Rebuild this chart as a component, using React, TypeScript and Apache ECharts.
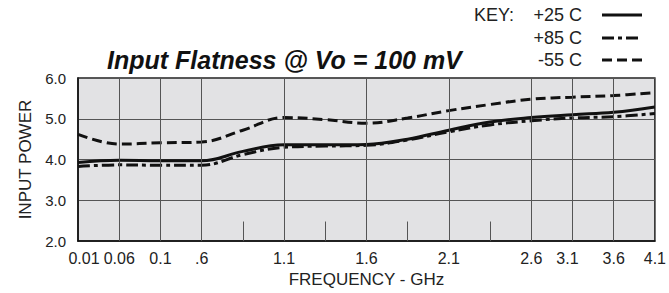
import React, { useEffect, useRef } from "react";
import * as echarts from "echarts";

// x positions are axis slots (the axis is non-uniform); labels for each slot
const xSlotLabels = ["0.01", "0.06", "0.1", ".6", "", "1.1", "", "1.6", "", "2.1", "", "2.6", "3.1", "3.6", "4.1"];
const xSlots = [0, 1, 2, 3, 4, 5, 6, 7, 8, 9, 10, 11, 12, 13, 14];
const gridSlots = [1, 2, 3, 5, 7, 9, 11, 12, 13];
const minorTickSlots = [4, 6, 8, 10];

const plus25 = [3.93, 3.98, 3.97, 3.97, 4.2, 4.36, 4.36, 4.37, 4.5, 4.72, 4.92, 5.03, 5.1, 5.16, 5.29];
const plus85 = [3.83, 3.87, 3.86, 3.86, 4.12, 4.3, 4.33, 4.35, 4.48, 4.68, 4.85, 4.95, 5.02, 5.05, 5.13];
const minus55 = [4.62, 4.38, 4.41, 4.43, 4.72, 5.03, 4.98, 4.89, 5.02, 5.2, 5.35, 5.48, 5.53, 5.57, 5.64];

const FONT = "'Liberation Sans', Arial, sans-serif";

export default function App() {
  const ref = useRef<HTMLDivElement>(null);
  useEffect(() => {
    const chart = echarts.init(ref.current!, undefined, { renderer: "svg" });
    const mk = (vals: number[]) => xSlots.map((x, i) => [x, vals[i]]);
    const keyX = 602;
    const keyFont = `18px ${FONT}`;
    const option: any = {
      animation: false,
      grid: {
        left: 78, right: 9, top: 78, bottom: 49,
        show: true, backgroundColor: "#e2e2e4", borderColor: "#222", borderWidth: 1.5,
      },
      title: {
        text: "Input Flatness @ Vo = 100 mV",
        left: 102, top: 42,
        textStyle: { fontFamily: FONT, fontSize: 25, fontWeight: "bold", fontStyle: "italic", color: "#111" },
      },
      graphic: [
        { type: "text", left: 474, top: 6, style: { text: "KEY:", font: keyFont, fill: "#222" } },
        { type: "text", right: 87, top: 6, style: { text: "+25 C", font: keyFont, fill: "#222" } },
        { type: "text", right: 87, top: 29, style: { text: "+85 C", font: keyFont, fill: "#222" } },
        { type: "text", right: 87, top: 51, style: { text: "-55 C", font: keyFont, fill: "#222" } },
        { type: "line", shape: { x1: keyX, y1: 15, x2: keyX + 40, y2: 15 }, style: { stroke: "#111", lineWidth: 3 } },
        { type: "line", shape: { x1: keyX, y1: 38, x2: keyX + 40, y2: 38 }, style: { stroke: "#111", lineWidth: 3, lineDash: [12, 4, 4, 4] } },
        { type: "line", shape: { x1: keyX, y1: 60, x2: keyX + 40, y2: 60 }, style: { stroke: "#111", lineWidth: 3, lineDash: [10, 5] } },
      ],
      xAxis: {
        type: "value", min: 0, max: 14, interval: 1,
        name: "FREQUENCY - GHz", nameLocation: "middle", nameGap: 28,
        nameTextStyle: { fontFamily: FONT, fontSize: 17, color: "#222" },
        axisLine: { show: true, lineStyle: { color: "#111", width: 1.5 } },
        axisTick: { show: false },
        splitLine: { show: false },
        axisLabel: {
          fontFamily: FONT, fontSize: 16, color: "#222", margin: 9,
          formatter: (v: number) => {
            const s = xSlotLabels[Math.round(v)] ?? "";
            if (s === "0.01") return `{r|${s}}`;
            if (s === "3.1") return `{l|${s}}`;
            return s;
          },
          rich: {
            r: { fontFamily: FONT, fontSize: 16, color: "#222", padding: [0, 0, 0, 12] },
            l: { fontFamily: FONT, fontSize: 16, color: "#222", padding: [0, 10, 0, 0] },
          },
        },
      },
      yAxis: {
        type: "value", min: 2, max: 6, interval: 1,
        name: "INPUT POWER", nameLocation: "middle", nameGap: 43,
        nameTextStyle: { fontFamily: FONT, fontSize: 17, color: "#222" },
        axisLine: { show: true, lineStyle: { color: "#111", width: 1.5 } },
        axisTick: { show: false },
        splitLine: { show: true, lineStyle: { color: "#555", width: 1 } },
        axisLabel: { fontFamily: FONT, fontSize: 15, color: "#222", margin: 12, formatter: (v: number) => v.toFixed(1) },
      },
      series: [
        {
          type: "line", name: "grid", data: [], silent: true,
          markLine: {
            silent: true, symbol: "none", label: { show: false },
            lineStyle: { color: "#555", width: 1, type: "solid" },
            data: [
              ...gridSlots.map((x) => ({ xAxis: x })),
              ...minorTickSlots.map((x) => [{ coord: [x, 2] }, { coord: [x, 2.48] }]),
            ],
          },
        },
        {
          type: "line", name: "+85 C", data: mk(plus85), smooth: 0.4, showSymbol: false,
          lineStyle: { color: "#111", width: 3, type: [12, 4, 4, 4] },
        },
        {
          type: "line", name: "+25 C", data: mk(plus25), smooth: 0.4, showSymbol: false,
          lineStyle: { color: "#111", width: 3 },
        },
        {
          type: "line", name: "-55 C", data: mk(minus55), smooth: 0.4, showSymbol: false,
          lineStyle: { color: "#111", width: 3, type: [10, 5] },
        },
      ],
    };
    chart.setOption(option);
    return () => chart.dispose();
  }, []);
  return <div ref={ref} style={{ width: 669, height: 293, position: "absolute", left: 0, top: 0 }} />;
}
